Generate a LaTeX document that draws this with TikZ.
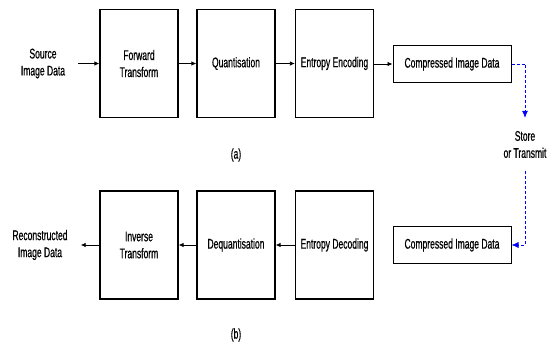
\documentclass[tikz,border=0pt]{standalone}
\usepackage{fontspec}
\setmainfont{Liberation Sans}[FakeStretch=0.61,FakeBold=0.6]
\usetikzlibrary{arrows.meta}
\begin{document}
\begin{tikzpicture}[x=1pt,y=-1pt,
  every node/.style={font=\fontsize{14}{17}\selectfont, align=center, inner sep=0pt},
  blk/.style={draw, line width=1.2pt, minimum width=78pt, minimum height=108pt},
  cmpbox/.style={draw, line width=1pt, minimum width=118pt, minimum height=37pt},
  arr/.style={line width=0.8pt, -{Latex[length=5pt,width=4.5pt]}},
  blu/.style={blue, line width=0.7pt, densely dashed, -{Latex[length=7pt,width=6pt]}}]
\useasboundingbox (0,0) rectangle (550,345);
% top row
\node (src) at (43,63.5) {Source\\Image Data};
\node[blk] (fwd) at (139,63.5) {Forward\\Transform};
\node[blk] (quant) at (236,63.5) {Quantisation};
\node[blk] (enc) at (334.5,63.5) {Entropy Encoding};
\node[cmpbox] (cmp1) at (452,64) {Compressed Image Data};
\node (store) at (525,144.5) {Store\\or Transmit};
\node (a) at (236,155) {(a)};
% bottom row
\node (rec) at (40,245) {Reconstructed\\Image Data};
\node[blk] (inv) at (139,245) {Inverse\\Transform};
\node[blk] (deq) at (236,245) {Dequantisation};
\node[blk] (dec) at (334.5,245) {Entropy Decoding};
\node[cmpbox] (cmp2) at (452,245) {Compressed Image Data};
\node (b) at (236,335) {(b)};
% connectors
\draw[arr, shorten <=13pt] (src.east|-fwd.west) -- (fwd.west);
\draw[arr] (fwd) -- (quant);
\draw[arr] (quant) -- (enc);
\draw[arr] (enc.east|-cmp1.west) -- (cmp1.west);
\draw[arr] (dec.west) -- (deq.east);
\draw[arr] (deq.west) -- (inv.east);
\draw[arr, shorten >=13pt] (inv.west) -- (rec.east|-inv.west);
\coordinate (turn1) at (525,64);
\coordinate (turn2) at (525,245);
\draw[blu, shorten >=13pt] (cmp1.east) -- (turn1) -- (store.north);
\draw[blu, shorten <=13pt] (store.south) -- (turn2) -- (cmp2.east);
\end{tikzpicture}
\end{document}
